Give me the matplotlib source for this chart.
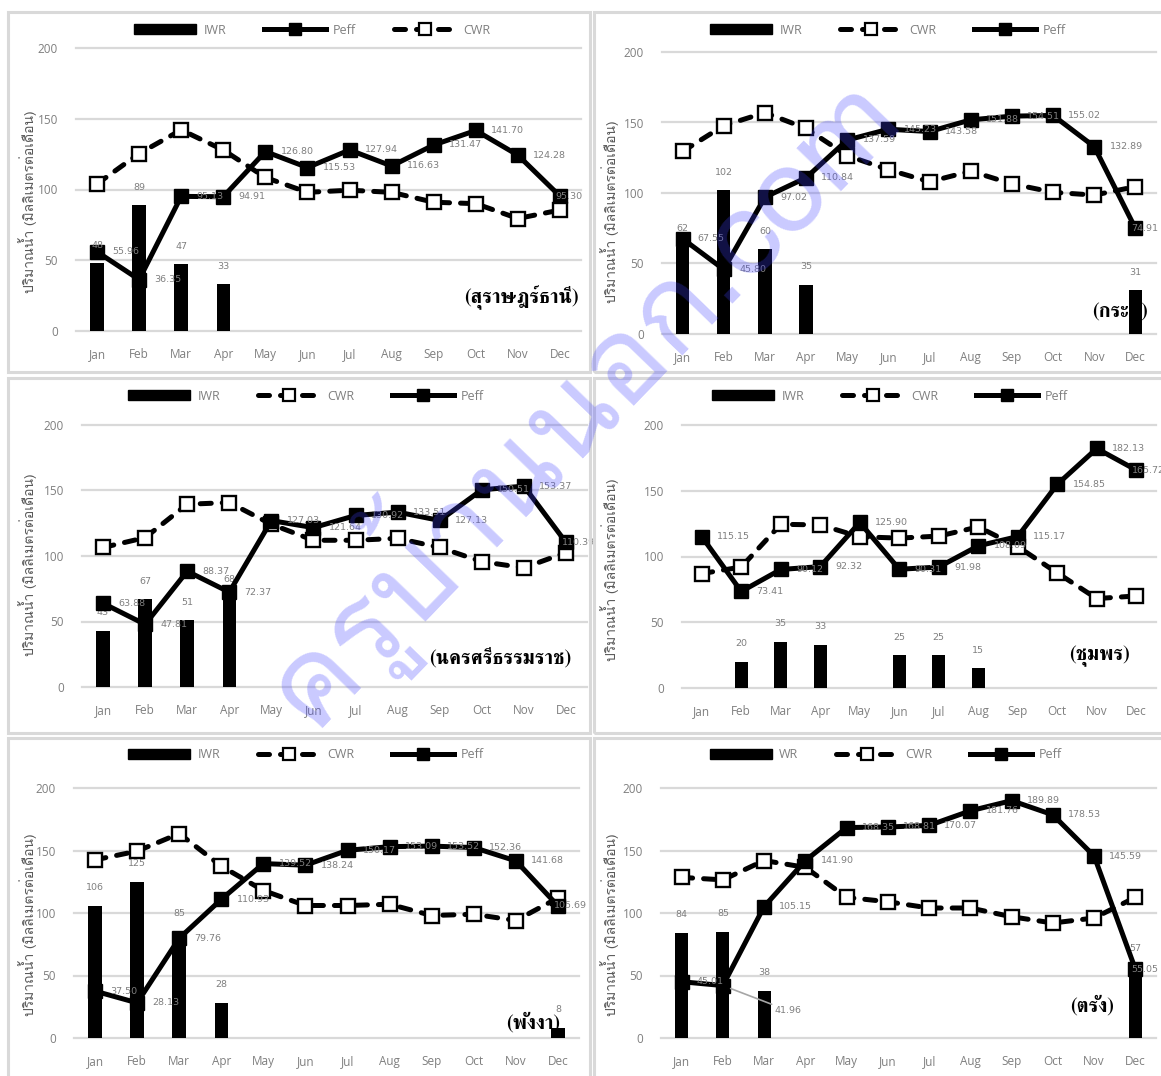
import numpy as np
import matplotlib
matplotlib.use("Agg")
import matplotlib.pyplot as plt
from matplotlib.patches import Rectangle, Patch
from matplotlib.lines import Line2D

months = ["Jan", "Feb", "Mar", "Apr", "May", "Jun", "Jul", "Aug", "Sep", "Oct", "Nov", "Dec"]
yticks = [0, 50, 100, 150, 200]
ylabel_text = "ปริมาณน้ำ (มิลลิเมตรต่อเดือน)"
watermark_text = "ครูบ้านนอก.com"

# ---- Surat Thani ----
surat_name = "(สุราษฎร์ธานี)"
surat_iwr = [48, 89, 47, 33, None, None, None, None, None, None, None, None]
surat_peff = [55.96, 36.35, 95.13, 94.91, 126.80, 115.53, 127.94, 116.63, 131.47, 141.70, 124.28, 95.30]
surat_cwr = [103.96, 125.4, 142.1, 127.9, 108.5, 98.0, 99.5, 98.0, 91.0, 90.0, 79.5, 85.5]

# ---- Krabi ----
krabi_name = "(กระบี่)"
krabi_iwr = [62, 102, 60, 35, None, None, None, None, None, None, None, 31]
krabi_peff = [67.55, 45.80, 97.02, 110.84, 137.59, 145.23, 143.58, 151.88, 154.51, 155.02, 132.89, 74.91]
krabi_cwr = [129.5, 147.8, 157.0, 145.8, 126.5, 116.5, 108.0, 115.5, 106.5, 100.5, 98.5, 104.5]

# ---- Nakhon Si Thammarat ----
nakhon_name = "(นครศรีธรรมราช)"
nakhon_iwr = [43, 67, 51, 68, None, None, None, None, None, None, None, None]
nakhon_peff = [63.88, 47.81, 88.37, 72.37, 127.03, 121.64, 130.92, 133.51, 127.13, 150.51, 153.37, 110.39]
nakhon_cwr = [106.5, 114.0, 139.5, 140.8, 124.2, 112.0, 112.0, 113.5, 106.5, 95.7, 91.0, 102.6]

# ---- Chumphon ----
chumphon_name = "(ชุมพร)"
chumphon_iwr = [None, 20, 35, 33, None, 25, 25, 15, None, None, None, None]
chumphon_peff = [115.15, 73.41, 90.12, 92.32, 125.90, 90.31, 91.98, 108.09, 115.17, 154.85, 182.13, 165.72]
chumphon_cwr = [87.0, 92.0, 124.5, 124.0, 115.0, 114.0, 115.5, 122.5, 107.5, 87.5, 68.0, 70.0]

# ---- Phang Nga ----
phangnga_name = "(พังงา)"
phangnga_iwr = [106, 125, 85, 28, None, None, None, None, None, None, None, 8]
phangnga_peff = [37.50, 28.13, 79.76, 110.93, 139.52, 138.24, 150.17, 153.09, 153.52, 152.36, 141.68, 105.69]
phangnga_cwr = [142.5, 149.5, 163.5, 137.5, 118.0, 106.0, 106.0, 107.0, 98.0, 99.0, 94.0, 112.0]

# ---- Trang ----
trang_name = "(ตรัง)"
trang_iwr = [84, 85, 38, None, None, None, None, None, None, None, None, 57]
trang_peff = [45.01, 41.96, 105.15, 141.90, 168.35, 168.81, 170.07, 181.76, 189.89, 178.53, 145.59, 55.05]
trang_cwr = [128.5, 126.5, 142.0, 136.5, 112.5, 109.0, 104.0, 104.0, 97.0, 92.0, 96.0, 112.5]

W, H = 1161, 1076
fig = plt.figure(figsize=(W / 100, H / 100), dpi=100)

GRAY_TXT = "#7f7f7f"
GRID = "#d9d9d9"
TICK_FONT = ["Open Sans", "DejaVu Sans"]
THAI_SANS = ["Loma", "DejaVu Sans"]
THAI_BOLD = ["FreeSerif", "DejaVu Sans"]


def fx(p):
    return p / W


def fy(p):
    return 1 - p / H


# panel frames
for (x0, y0, x1, y1) in [(8, 12, 590, 372), (594, 12, 1166, 372),
                         (8, 378, 590, 733), (594, 378, 1166, 733),
                         (8, 738, 590, 1082), (594, 738, 1166, 1082)]:
    fig.patches.append(Rectangle((fx(x0), fy(y1)), fx(x1 - x0), (y1 - y0) / H,
                                 transform=fig.transFigure, fill=False,
                                 edgecolor=GRID, lw=2.2, zorder=0))

panels = [
    dict(name=surat_name, iwr=surat_iwr, peff=surat_peff, cwr=surat_cwr,
         order=["IWR", "Peff", "CWR"], iwr_lab="IWR",
         box=(76, 581, 48, 331), leg=(312, 30), ylab=(28, 202), nm=(521, 298)),
    dict(name=krabi_name, iwr=krabi_iwr, peff=krabi_peff, cwr=krabi_cwr,
         order=["IWR", "CWR", "Peff"], iwr_lab="IWR",
         box=(662, 1156, 52, 334), leg=(888, 30), ylab=(610, 212), nm=(1120, 310)),
    dict(name=nakhon_name, iwr=nakhon_iwr, peff=nakhon_peff, cwr=nakhon_cwr,
         order=["IWR", "CWR", "Peff"], iwr_lab="IWR",
         box=(82, 587, 425, 687), leg=(306, 396), ylab=(28, 565), nm=(500, 657)),
    dict(name=chumphon_name, iwr=chumphon_iwr, peff=chumphon_peff, cwr=chumphon_cwr,
         order=["IWR", "CWR", "Peff"], iwr_lab="IWR",
         box=(682, 1156, 425, 688), leg=(890, 396), ylab=(610, 570), nm=(1100, 656)),
    dict(name=phangnga_name, iwr=phangnga_iwr, peff=phangnga_peff, cwr=phangnga_cwr,
         order=["IWR", "CWR", "Peff"], iwr_lab="IWR",
         box=(74, 579, 788, 1038), leg=(306, 755), ylab=(28, 925), nm=(533, 1022)),
    dict(name=trang_name, iwr=trang_iwr, peff=trang_peff, cwr=trang_cwr,
         order=["IWR", "CWR", "Peff"], iwr_lab="WR",
         box=(661, 1156, 788, 1038), leg=(886, 755), ylab=(610, 925), nm=(1092, 1005)),
]

x = np.arange(len(months))
LW = 3.6
LBL = 6.8

for pi, p in enumerate(panels):
    l, r, t, b = p["box"]
    ax = fig.add_axes([fx(l), fy(b), (r - l) / W, (b - t) / H])
    ax.set_xlim(-0.5, 11.5)
    ax.set_ylim(0, 200)
    for s in ax.spines.values():
        s.set_visible(False)
    for v in yticks:
        ax.axhline(v, color=GRID, lw=1.6, zorder=0, clip_on=False)
    ax.set_yticks(yticks)
    ax.set_xticks(x)
    ax.set_xticklabels(months)
    ax.tick_params(length=0, labelsize=8.5, labelcolor=GRAY_TXT, pad=0)
    ax.tick_params(axis="y", pad=13)
    ax.tick_params(axis="x", pad=12)
    for lab in ax.get_xticklabels() + ax.get_yticklabels():
        lab.set_family(TICK_FONT)

    iwr = np.array([np.nan if v is None else v for v in p["iwr"]], dtype=float)
    peff = np.array(p["peff"], dtype=float)
    cwr = np.array(p["cwr"], dtype=float)

    # province name (drawn under the bars)
    ax.text(fx(p["nm"][0]), fy(p["nm"][1]), p["name"], transform=fig.transFigure,
            ha="center", va="center", fontsize=14.5, fontweight="bold",
            family=THAI_BOLD, color="black", zorder=0.5)

    ax.bar(x, iwr, width=0.32, color="black", zorder=2)
    for xi, v in zip(x, iwr):
        if not np.isnan(v):
            ax.annotate("%d" % v, (xi, v), xytext=(0, 13), textcoords="offset points",
                        ha="center", va="center", fontsize=LBL, color=GRAY_TXT, zorder=5)

    z = {"Peff": 3, "CWR": 3}
    for k, name in enumerate(p["order"]):
        if name in z:
            z[name] = 3 + k
    ax.plot(x, cwr, color="black", lw=LW, ls=(0, (2.2, 2.2)), dash_capstyle="round",
            marker="s", ms=10.5, mfc="white", mec="black", mew=1.7, zorder=z["CWR"])
    ax.plot(x, peff, color="black", lw=LW, marker="s", ms=10.5, mfc="black",
            mec="black", zorder=z["Peff"])

    for xi, v in zip(x, peff):
        if pi == 5 and xi == 1:
            ax.annotate("%.2f" % v, (xi, v), xytext=(2.25, 22), textcoords="data",
                        ha="left", va="center", fontsize=LBL, color=GRAY_TXT, zorder=6,
                        arrowprops=dict(arrowstyle="-", color="#a6a6a6", lw=1.2,
                                        shrinkA=0, shrinkB=6))
            continue
        off = 11 if xi < 11 else -3
        ax.annotate("%.2f" % v, (xi, v), xytext=(off, 0), textcoords="offset points",
                    ha="left", va="center", fontsize=LBL, color=GRAY_TXT, zorder=6)

    # y label
    fig.text(fx(p["ylab"][0]), fy(p["ylab"][1]), ylabel_text, rotation=90,
             ha="center", va="center", fontsize=10, color="#595959", family=THAI_SANS)

    # legend
    hmap = {
        "IWR": Patch(facecolor="black", edgecolor="black"),
        "Peff": Line2D([], [], color="black", lw=LW, marker="s", ms=8, mfc="black", mec="black"),
        "CWR": Line2D([], [], color="black", lw=LW, ls=(0, (2.2, 2.2)), dash_capstyle="round",
                      marker="s", ms=8, mfc="white", mec="black", mew=1.6),
    }
    handles = [hmap[n] for n in p["order"]]
    labels = [p["iwr_lab"] if n == "IWR" else n for n in p["order"]]
    leg = fig.legend(handles, labels, loc="center",
                     bbox_to_anchor=(fx(p["leg"][0]), fy(p["leg"][1])),
                     ncol=3, frameon=False, fontsize=9, handlelength=5.0,
                     handleheight=0.9, handletextpad=0.55, columnspacing=3.0,
                     labelcolor=GRAY_TXT, borderpad=0, borderaxespad=0)
    for tx in leg.get_texts():
        tx.set_family(TICK_FONT)

# diagonal watermark over the page
fig.text(fx(572), fy(392), watermark_text, rotation=46, rotation_mode="anchor",
         ha="center", va="center", fontsize=86, fontweight="normal",
         family=THAI_SANS, color=(0.25, 0.25, 1.0), alpha=0.28, zorder=10)

fig.savefig("out.png", dpi=100)
